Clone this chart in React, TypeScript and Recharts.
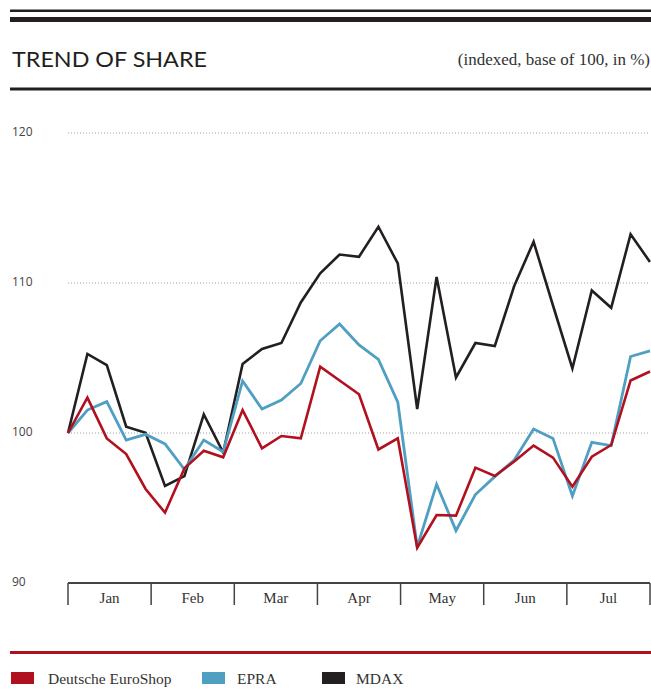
import React from 'react';
import { LineChart, Line, XAxis, YAxis, CartesianGrid } from 'recharts';

// week index along the x axis (Jan .. end of Jul)
const weeks = [0, 1, 2, 3, 4, 5, 6, 7, 8, 9, 10, 11, 12, 13, 14, 15, 16, 17, 18, 19, 20, 21, 22, 23, 24, 25, 26, 27, 28, 29, 30];

const euroShop = [
  100, 102.36, 99.64, 98.6, 96.27, 94.69, 97.64, 98.82, 98.38, 101.53, 98.98, 99.8, 99.64, 104.42, 103.5, 102.58,
  98.9, 99.64, 92.35, 94.53, 94.49, 97.69, 97.13, 98.1, 99.16, 98.36, 96.42, 98.42, 99.2, 103.5, 104.1,
];
const epra = [
  100, 101.53, 102.09, 99.53, 99.91, 99.27, 97.58, 99.53, 98.75, 103.47, 101.6, 102.2, 103.3, 106.15, 107.27, 105.87,
  104.9, 102.05, 92.4, 96.58, 93.49, 95.9, 97.09, 98.2, 100.27, 99.64, 95.8, 99.38, 99.16, 105.1, 105.47,
];
const mdax = [
  100, 105.27, 104.53, 100.42, 100.02, 96.47, 97.13, 101.24, 98.7, 104.6, 105.6, 106.0, 108.7, 110.65, 111.9, 111.75,
  113.75, 111.3, 101.6, 110.4, 103.7, 106.0, 105.8, 109.8, 112.75, 108.5, 104.3, 109.5, 108.35, 113.25, 111.4,
];

const months = ['Jan', 'Feb', 'Mar', 'Apr', 'May', 'Jun', 'Jul'];
const yTicks = [90, 100, 110, 120];

const RED = '#b1101e';
const BLUE = '#4f9fc2';
const BLACK = '#231f20';

const data = weeks.map((w, i) => ({ week: w, euroShop: euroShop[i], epra: epra[i], mdax: mdax[i] }));

// month boundaries and month centres, alternating
const monthLen = 30 / months.length;
const xTicks: number[] = [];
for (let m = 0; m <= months.length; m++) {
  xTicks.push(m * monthLen);
  if (m < months.length) xTicks.push((m + 0.5) * monthLen);
}

const MonthTick = ({ x, y, index }: any) => {
  if (index % 2 === 0) {
    return <line x1={x} x2={x} y1={y} y2={y + 22} stroke="#444" strokeWidth={1.5} />;
  }
  return (
    <text x={x} y={y + 20} textAnchor="middle" fontFamily="'Liberation Serif', serif" fontSize={15} fill="#333">
      {months[(index - 1) / 2]}
    </text>
  );
};

const ValueTick = ({ y, payload }: any) => (
  <text x={12} y={y - 1.5} dominantBaseline="central" fontFamily="'Open Sans', sans-serif" fontSize={12} fill="#444">
    {payload.value}
  </text>
);

const legendItems = [
  { name: 'Deutsche EuroShop', color: RED, x: 11, tx: 48 },
  { name: 'EPRA', color: BLUE, x: 202, tx: 237 },
  { name: 'MDAX', color: BLACK, x: 322, tx: 356 },
];

export default function App() {
  return (
    <div style={{ position: 'absolute', left: 0, top: 0, width: 651, height: 697, background: '#fff' }}>
      <svg width={651} height={697} style={{ position: 'absolute', left: 0, top: 0 }}>
        <rect x={10} y={9.5} width={641} height={2.5} fill={BLACK} />
        <rect x={10} y={17} width={641} height={5} fill={BLACK} />
        <text
          x={12}
          y={67}
          fontFamily="Lato, sans-serif"
          fontSize={21}
          fill={BLACK}
          textLength={195}
          lengthAdjust="spacingAndGlyphs"
        >
          TREND OF SHARE
        </text>
        <text x={650} y={65} textAnchor="end" fontFamily="'Liberation Serif', serif" fontSize={17} fill="#333">
          (indexed, base of 100, in %)
        </text>
        <rect x={10} y={87.5} width={641} height={3} fill={BLACK} />
        <rect x={10} y={651} width={641} height={3} fill={RED} />
        {legendItems.map((it) => (
          <g key={it.name}>
            <rect x={it.x} y={672} width={23} height={12} fill={it.color} />
            <text x={it.tx} y={684} fontFamily="'Liberation Serif', serif" fontSize={15.5} fill="#333">
              {it.name}
            </text>
          </g>
        ))}
      </svg>
      <div style={{ position: 'absolute', left: 0, top: 0 }}>
        <LineChart width={651} height={697} data={data} margin={{ top: 133, right: 1, bottom: 84, left: 8 }}>
          <CartesianGrid vertical={false} stroke="#a0a0a0" strokeDasharray="1 2" />
          <XAxis
            dataKey="week"
            type="number"
            domain={[0, 30]}
            ticks={xTicks}
            interval={0}
            height={30}
            tickSize={0}
            tickMargin={0}
            tickLine={false}
            axisLine={{ stroke: '#444', strokeWidth: 2 }}
            tick={<MonthTick />}
          />
          <YAxis
            domain={[90, 120]}
            ticks={yTicks}
            width={60}
            axisLine={false}
            tickLine={false}
            tick={<ValueTick />}
          />
          <Line dataKey="mdax" stroke={BLACK} strokeWidth={2.6} dot={false} isAnimationActive={false} />
          <Line dataKey="epra" stroke={BLUE} strokeWidth={2.8} dot={false} isAnimationActive={false} />
          <Line dataKey="euroShop" stroke={RED} strokeWidth={2.6} dot={false} isAnimationActive={false} />
        </LineChart>
      </div>
    </div>
  );
}
